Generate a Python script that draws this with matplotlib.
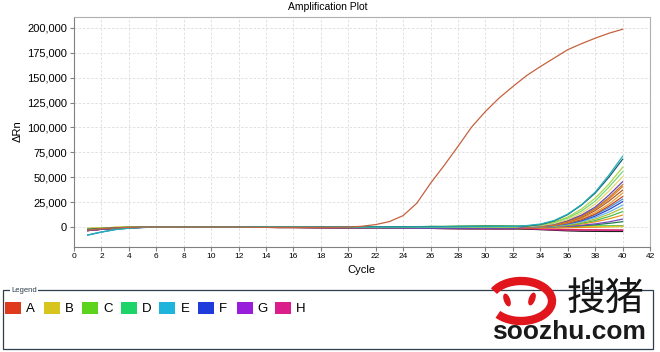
import matplotlib
matplotlib.use('Agg')
import matplotlib.pyplot as plt
from matplotlib.patches import Rectangle, Arc, Ellipse
from matplotlib.ticker import FuncFormatter, MultipleLocator

plt.rcParams['font.family'] = ['Liberation Sans', 'DejaVu Sans']

cycles = list(range(1, 41))

# positive control well (the big curve)
positive_control = [-3000, -1500, -800, -300, 0, 0, 0, 0, 0, 0, 0, 0, -200, -300, -300, -300,
                    -300, -300, -200, 0, 800, 2500, 5500, 11500, 24000, 44000, 62000, 81000,
                    100500, 116000, 129500, 141000, 152000, 161000, 169500, 178000, 184000,
                    189500, 194500, 198500]

# baselines for cycles 1-32
base_red = [-3500, -2200, -1300, -700, -300, -100, 0, 0, 0, 100, 100, 0, -200, -300, -400, -400,
            -500, -600, -700, -800, -900, -900, -1000, -1100, -1200, -1300, -1400, -1500, -1600,
            -1600, -1700, -1700]
base_orange = [-2800, -1800, -1000, -500, -200, 0, 0, 100, 100, 100, 100, 100, 0, -100, -100, -200,
               -200, -300, -300, -400, -400, -500, -500, -600, -600, -700, -700, -800, -800, -800,
               -800, -700]
base_yellow = [-1500, -900, -400, -100, 0, 100, 200, 200, 200, 200, 200, 200, 100, 100, 100, 0,
               0, 0, 0, 0, 0, 0, 0, 0, 0, 0, 0, 0, 100, 100, 100, 200]
base_green = [-2200, -1400, -700, -300, 0, 0, 100, 100, 100, 100, 100, 100, 100, 100, 100, 100,
              100, 200, 200, 200, 300, 300, 300, 400, 400, 500, 500, 600, 700, 800, 800, 700]
base_cyan = [-8000, -5000, -2500, -1100, -400, -100, 0, 0, 0, 0, 0, 0, 0, 0, 0, 0,
             0, 0, 0, 0, 0, 0, 0, 0, 100, 100, 200, 200, 300, 300, 400, 400]

# late cycles 33-40 of the other wells
late_values = [
    [800, 900, 1000, 1000, 1100, 1100, 1200, 1200],
    [300, 400, 400, 500, 500, 600, 600, 600],
    [-1800, -2000, -2200, -2500, -2700, -2800, -2900, -3000],
    [-2000, -2600, -3200, -3800, -4200, -4300, -4400, -4400],
    [-1500, -2200, -2800, -3000, -3000, -3100, -3100, -3200],
    [-800, -1000, -900, -700, -400, 0, 400, 800],
    [200, 300, 300, 400, 400, 500, 500, 500],
    [0, 100, 300, 700, 1300, 2300, 3700, 5400],
    [0, 100, 400, 900, 1800, 3200, 5200, 8000],
    [0, 200, 700, 1600, 3000, 5200, 8200, 12000],
    [0, 300, 900, 2000, 3800, 6500, 10500, 15500],
    [100, 400, 1100, 2400, 4700, 8000, 12800, 19000],
    [100, 500, 1300, 2800, 5500, 9500, 15000, 22000],
    [200, 600, 1500, 3300, 6300, 11000, 17500, 25500],
    [200, 700, 1700, 3800, 7200, 12300, 19500, 28000],
    [200, 700, 1800, 4000, 7500, 13000, 21000, 30500],
    [300, 800, 2000, 4500, 8500, 14500, 23000, 34000],
    [300, 900, 2200, 5000, 9500, 16500, 26000, 37000],
    [400, 1000, 2500, 5500, 10500, 18000, 28000, 40500],
    [500, 1100, 2700, 6000, 11000, 18500, 29500, 42500],
    [500, 1200, 3000, 6500, 12000, 20000, 32000, 45500],
    [600, 1500, 3500, 7500, 14000, 23000, 36000, 50500],
    [800, 2000, 4500, 9000, 16000, 26000, 40000, 55500],
    [900, 2200, 5000, 10000, 18000, 29000, 43000, 60000],
    [1000, 2500, 6000, 12500, 22000, 34000, 50000, 68000],
    [1500, 3000, 6500, 13000, 22500, 35000, 52000, 71000],
]
late_bases = [base_green, base_green, base_red, base_red, base_orange, base_orange, base_yellow,
              base_green, base_red, base_orange, base_green, base_yellow, base_cyan, base_orange,
              base_cyan, base_red, base_yellow, base_red, base_orange, base_orange, base_red,
              base_yellow, base_green, base_yellow, base_green, base_cyan]
late_colors = ['#40c040', '#30d070', '#d83020', '#202020', '#d82090', '#e87020', '#e0c820',
               '#208048', '#7848c0', '#f09028', '#48c048', '#b8c038', '#68b8e8', '#2a48d0',
               '#4890d0', '#c84828', '#e8a030', '#b05a28', '#e88020', '#c07830', '#6a48b0',
               '#e8d870', '#78d878', '#a8d84a', '#1e5a6e', '#22b0b8']

legend_labels = ['A', 'B', 'C', 'D', 'E', 'F', 'G', 'H']
legend_colors = ['#e03a1e', '#d8c41e', '#5cd41e', '#1ed468', '#1eb4dc', '#1e3cdc', '#981edc', '#dc1e8c']

fig = plt.figure(figsize=(6.6, 3.52), dpi=100)
ax = fig.add_axes([74 / 660, 1 - 246.5 / 352, 576 / 660, 229.2 / 352])

for base, tail, col in zip(late_bases, late_values, late_colors):
    ax.plot(cycles, base + tail, color=col, lw=0.9)
ax.plot(cycles, positive_control, color='#c4623e', lw=0.9)

ax.set_xlim(0, 42)
ax.set_ylim(-19500, 210500)
ax.xaxis.set_major_locator(MultipleLocator(2))
ax.yaxis.set_major_locator(MultipleLocator(25000))
ax.yaxis.set_major_formatter(FuncFormatter(lambda v, p: f'{v:,.0f}'))
ax.grid(True, color='#dcdcdc', ls=(0, (3, 2)), lw=0.6)
ax.set_axisbelow(True)
for s in ['left', 'bottom']:
    ax.spines[s].set_color('#808080')
for s in ['top', 'right']:
    ax.spines[s].set_color('#b0b0b0')
ax.tick_params(axis='y', labelsize=8, length=3, color='#808080', pad=2)
ax.tick_params(axis='x', labelsize=6, length=3, color='#808080', pad=2)

fig.text(327.5 / 660, 1 - 7 / 352, 'Amplification Plot', ha='center', va='center', fontsize=7.5)
fig.text(361 / 660, 1 - 270 / 352, 'Cycle', ha='center', va='center', fontsize=8)
fig.text(18 / 660, 1 - 131 / 352, 'ΔRn', ha='center', va='center', fontsize=8, rotation=90)

# legend panel, drawn in pixel coordinates
lg = fig.add_axes([0, 0, 1, 1], zorder=-1)
lg.set_xlim(0, 660)
lg.set_ylim(352, 0)
lg.axis('off')
lg.add_patch(Rectangle((3, 290), 650, 59, fill=False, ec='#2e3e4e', lw=0.9))
lg.text(11, 290, 'Legend', fontsize=5.5, va='center', ha='left', color='#2e3e4e',
        bbox=dict(fc='white', ec='none', pad=1))
for i, (lab, col) in enumerate(zip(legend_labels, legend_colors)):
    x0 = 5 + i * 38.6
    lg.add_patch(Rectangle((x0, 302), 16, 12, fc=col, ec='none'))
    lg.text(x0 + 21, 308.5, lab, fontsize=9.5, va='center', ha='left')

# watermark
wm = fig.add_axes([0, 0, 1, 1], zorder=5)
wm.set_xlim(0, 660)
wm.set_ylim(352, 0)
wm.axis('off')
wm.add_patch(Arc((521, 301), 62, 40, theta1=200, theta2=150, color='#e0161c', lw=6))
wm.add_patch(Ellipse((507, 300), 5, 12, angle=-20, color='#e0161c'))
wm.add_patch(Ellipse((532, 299), 5, 12, angle=20, color='#e0161c'))
wm.text(605, 299, '搜猪', fontsize=28, fontweight='medium', ha='center', va='center',
        family=['Noto Sans CJK SC', 'DejaVu Sans'], color='#151515')
wm.text(569, 332, 'soozhu.com', fontsize=19, fontweight='bold', ha='center', va='center',
        color='#1a1a1a')

fig.savefig('out.png', dpi=100)
